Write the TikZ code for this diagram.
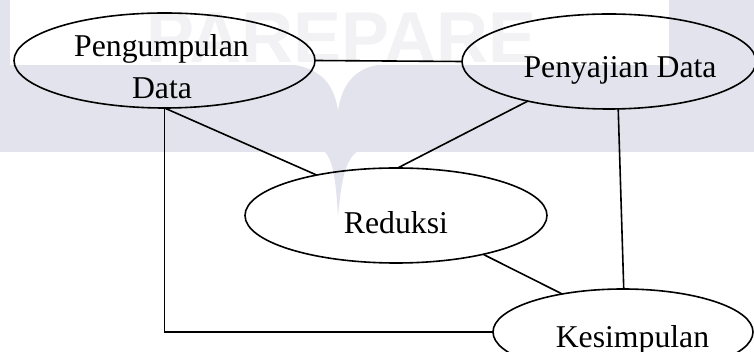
\documentclass[tikz,border=0pt]{standalone}
\usepackage{fontspec}
\setmainfont{Liberation Serif}
\newfontfamily\wmfont{Liberation Sans}
\usetikzlibrary{shapes.geometric}
\definecolor{bandgray}{RGB}{227,227,237}
\definecolor{wmgray}{RGB}{242,242,244}
\begin{document}
\begin{tikzpicture}[x=0.75pt,y=-0.75pt,
  oval/.style={draw, ellipse, line width=1.2pt, inner sep=0pt, outer sep=0pt},
  lbl/.style={font=\fontsize{23.8pt}{31.5pt}\selectfont, inner sep=0pt, anchor=base},
  link/.style={line width=1.2pt}]
\clip (0,0) rectangle (754,352);
\fill[white] (0,0) rectangle (754,352);
% faint watermark background
\node[font=\wmfont\bfseries\fontsize{54pt}{54pt}\selectfont, text=wmgray, anchor=base, inner sep=0pt] (wm) at (341.5,63) {PAREPARE};
\fill[bandgray] (0,65) rectangle (754,152);
\fill[bandgray] (0,0) rectangle (10,65);
\fill[bandgray] (669,0) rectangle (754,65);
\fill[white] (287,64) .. controls (322,67) and (334,85) .. (338,110) .. controls (342,85) and (354,67) .. (383,64) -- cycle;
\fill[bandgray] (324,151) .. controls (334,160) and (336,185) .. (338,216) .. controls (341,185) and (344,160) .. (358,151) -- cycle;
% ellipses
\node[oval, minimum width=225.75pt, minimum height=71.25pt] (peng) at (164.5,60.5) {};
\node[oval, minimum width=220.5pt, minimum height=71.25pt] (peny) at (609,61.5) {};
\node[oval, minimum width=226.5pt, minimum height=71.25pt] (red) at (396,215.5) {};
\node[oval, minimum width=195pt, minimum height=64.5pt] (kes) at (623,332) {};
% labels
\node[lbl] (tpeng1) at (161.5,57) {Pengumpulan};
\node[lbl] (tpeng2) at (162,99) {Data};
\node[lbl] (tpeny) at (620,78) {Penyajian Data};
\node[lbl] (tred) at (396,234) {Reduksi};
\node[lbl] (tkes) at (632.5,348) {Kesimpulan};
% connectors
\draw[link] (peng.east) -- (peny.west);
\draw[link] (peng.south) -- (red.153);
\draw[link] (peny.206) -- (red.88);
\draw[link] (peng.south) |- (kes.west);
\draw[link] (red.336) -- (kes.148);
\draw[link] (peny.281) -- (kes.89);
\end{tikzpicture}
\end{document}
